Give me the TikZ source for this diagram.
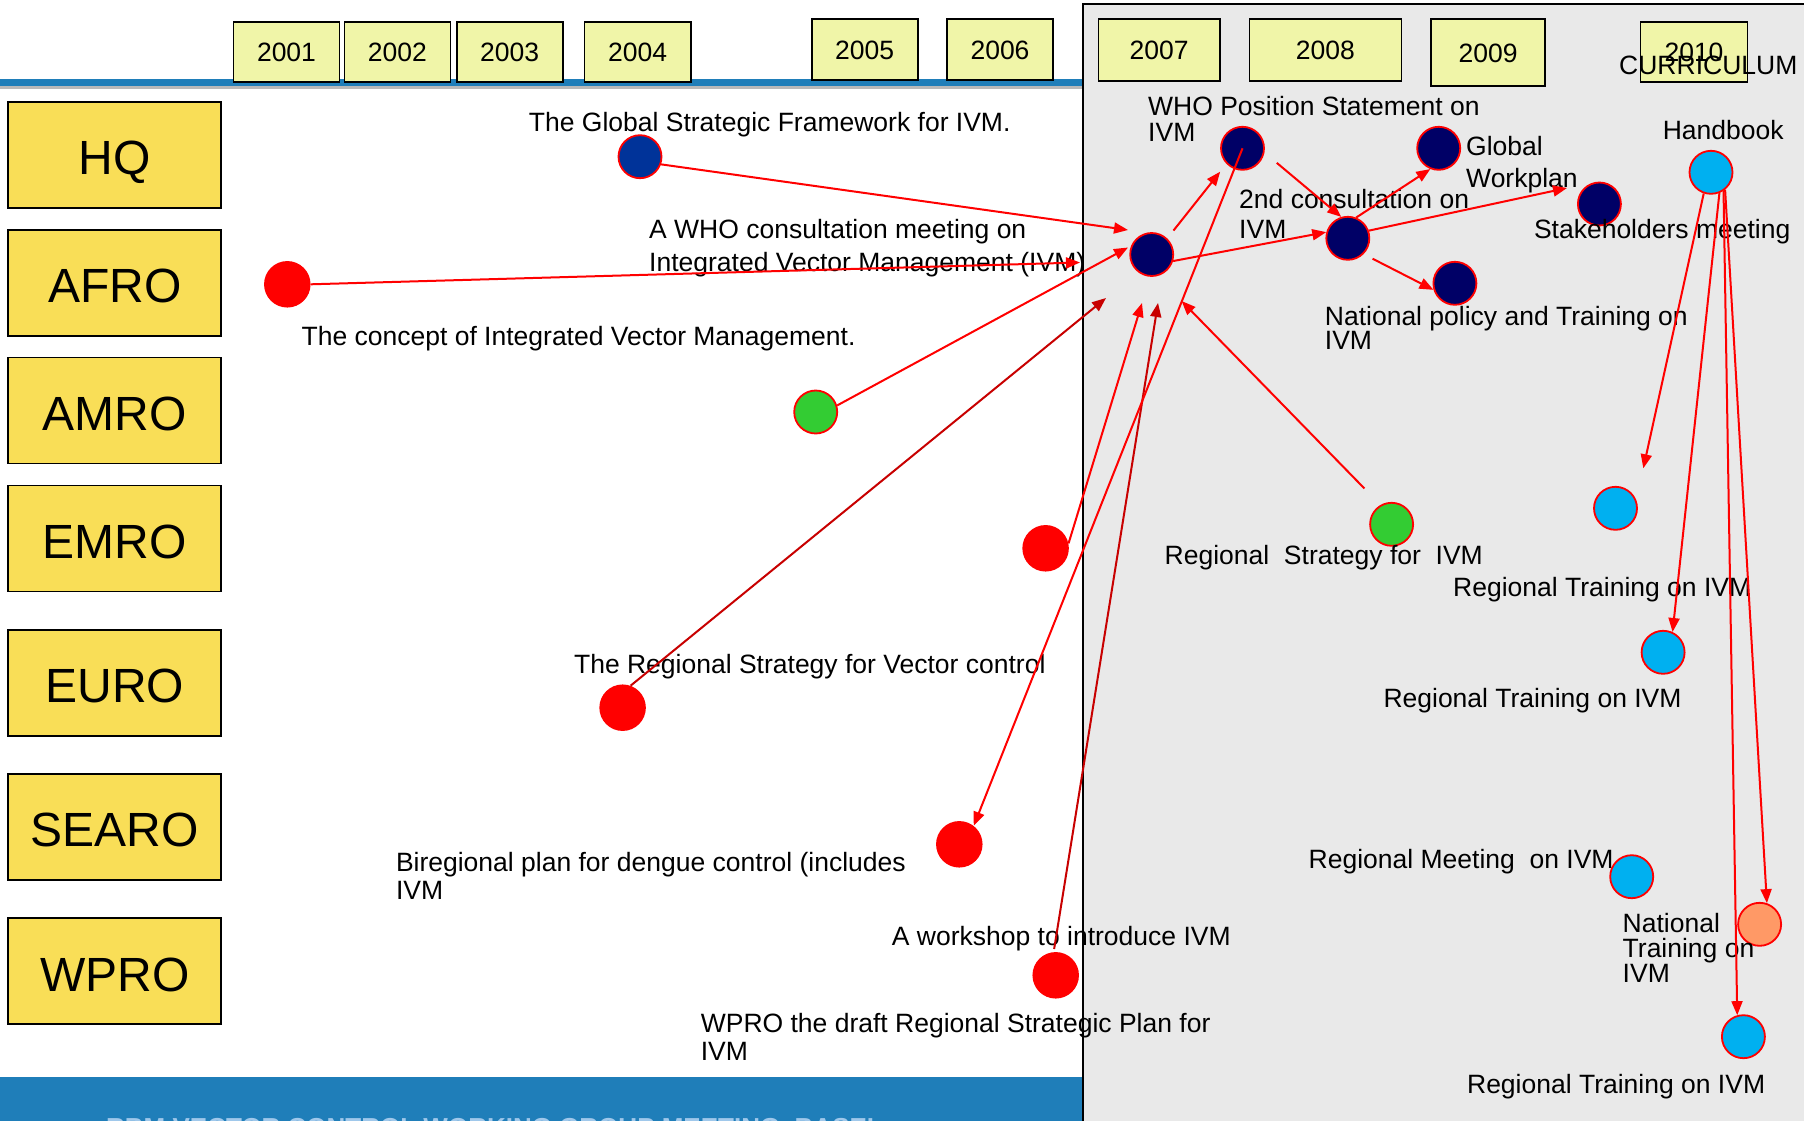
\documentclass[tikz,border=0pt]{standalone}
\usepackage{fontspec}
\setmainfont{Liberation Sans}
\usetikzlibrary{arrows.meta}
\definecolor{yearfill}{RGB}{240,245,168}
\definecolor{regfill}{RGB}{249,222,87}
\definecolor{barblue}{RGB}{31,126,185}
\definecolor{panelgray}{RGB}{233,233,233}
\definecolor{navyc}{RGB}{0,0,102}
\definecolor{royal}{RGB}{0,51,153}
\definecolor{skyb}{RGB}{0,176,240}
\definecolor{evgreen}{RGB}{51,204,51}
\definecolor{salmonc}{RGB}{255,153,102}
\definecolor{lnred}{RGB}{255,0,0}
\definecolor{dkred}{RGB}{200,0,0}
\definecolor{faintblue}{RGB}{160,200,235}
\begin{document}
\begin{tikzpicture}[x=1pt,y=-1pt,
  yearbox/.style 2 args={draw=black, line width=1.8pt, fill=yearfill, inner sep=0pt,
     minimum width=#1, minimum height=#2, text height=20pt, text depth=0pt,
     font=\fontsize{26.5pt}{30pt}\selectfont},
  regbox/.style={draw=black, line width=1.8pt, fill=regfill, inner sep=0pt,
     minimum width=212.7pt, minimum height=106pt, text height=40pt, text depth=0pt,
     font=\fontsize{48pt}{56pt}\selectfont},
  rdot/.style={circle, fill=lnred, inner sep=0pt, minimum size=46.5pt},
  ev/.style={circle, draw=lnred, line width=1.8pt, inner sep=0pt, minimum size=43pt, fill=#1},
  lab/.style={anchor=base west, inner sep=0pt, align=left, font=\fontsize{26.5pt}{#1}\selectfont},
  lab/.default=32pt,
  conn/.style={draw=lnred, line width=2pt, -{Triangle[length=14pt,width=11pt]}},
  dconn/.style={conn, draw=dkred}
]
\useasboundingbox (0,0) rectangle (1804,1121);
\fill[white] (0,0) rectangle (1804,1121);
% bars
\fill[barblue] (0,79) rectangle (1083,86);
\fill[gray!55] (0,86) rectangle (1083,89);
\fill[barblue] (0,1077) rectangle (1083,1121);
\begin{scope}
\clip (0,1077) rectangle (1083,1121);
\node[anchor=north west, inner sep=0pt, font=\bfseries\fontsize{26pt}{30pt}\selectfont, text=faintblue] (footer) at (106,1118.3) {RBM VECTOR CONTROL WORKING GROUP MEETING, BASEL};
\end{scope}
% right panel
\fill[panelgray] (1083,4) rectangle (1804,1121);
\draw[line width=1.8pt] (1083,1121) -- (1083,4) -- (1804,4);

% year boxes
\node[yearbox={106pt}{60pt}] (y2001) at (286.5,51.7) {2001};
\node[yearbox={106pt}{60pt}] (y2002) at (397.4,51.7) {2002};
\node[yearbox={106pt}{60pt}] (y2003) at (509.6,51.7) {2003};
\node[yearbox={106.6pt}{60pt}] (y2004) at (637.7,51.7) {2004};
\node[yearbox={106pt}{60.7pt}] (y2005) at (864.6,49.7) {2005};
\node[yearbox={106pt}{60.7pt}] (y2006) at (1000,49.7) {2006};
\node[yearbox={121.5pt}{61.4pt}] (y2007) at (1159.2,50) {2007};
\node[yearbox={152pt}{61.4pt}] (y2008) at (1325.4,50) {2008};
\node[yearbox={113.7pt}{66.7pt}] (y2009) at (1488.2,52.7) {2009};
\node[yearbox={107pt}{60pt}] (y2010) at (1694,52) {2010};

% region boxes
\node[regbox] (hq) at (114.7,154.7) {HQ};
\node[regbox] (rafro) at (114.7,282.9) {AFRO};
\node[regbox] (ramro) at (114.7,410.5) {AMRO};
\node[regbox] (remro) at (114.7,538.5) {EMRO};
\node[regbox] (reuro) at (114.7,682.9) {EURO};
\node[regbox] (rsearo) at (114.7,826.7) {SEARO};
\node[regbox] (rwpro) at (114.7,971.2) {WPRO};

% event nodes
\node[ev=royal] (gsf) at (640,156.7) {};
\node[rdot] (afro) at (287.3,284.3) {};
\node[ev=evgreen] (amro) at (815.7,412) {};
\node[rdot] (emro) at (1045.6,548.3) {};
\node[rdot] (euro) at (622.6,707.7) {};
\node[rdot] (searo) at (959.3,844.3) {};
\node[rdot] (wpro) at (1055.7,975.3) {};
\node[ev=navyc] (central) at (1151.7,254.5) {};
\node[ev=navyc] (who) at (1242.5,148.3) {};
\node[ev=navyc] (second) at (1347.8,238.3) {};
\node[ev=navyc] (globwp) at (1438.7,148.3) {};
\node[ev=navyc] (stake) at (1599.4,204) {};
\node[ev=navyc] (natpol) at (1454.9,283.3) {};
\node[ev=skyb] (handbook) at (1711,172.3) {};
\node[ev=evgreen] (regstrat) at (1391.6,524.3) {};
\node[ev=skyb] (rt1) at (1615.5,508.3) {};
\node[ev=skyb] (rt2) at (1663.1,652.3) {};
\node[ev=skyb] (regmeet) at (1631.7,876.7) {};
\node[ev=salmonc] (nattrain) at (1759.6,924.3) {};
\node[ev=skyb] (rt3) at (1743.4,1036.7) {};

% labels (anchor at the baseline of the last line)
\node[lab] (tgsf) at (528.7,131.7) {The Global Strategic Framework for IVM.};
\node[lab=33.4pt] (tcons) at (649,271.7) {A WHO consultation meeting on\\Integrated Vector Management (IVM)};
\node[lab] (tconc) at (301.4,345) {The concept of Integrated Vector Management.};
\node[lab] (trsvc) at (573.9,673.3) {The Regional Strategy for Vector control};
\node[lab=28pt] (tbir) at (395.8,899) {Biregional plan for dengue control (includes\\IVM};
\node[lab] (twork) at (891.7,945) {A workshop to introduce IVM};
\node[lab=28pt] (twpro) at (700.6,1060) {WPRO the draft Regional Strategic Plan for\\IVM};
\node[lab=25.5pt] (twho) at (1148,141.5) {WHO Position Statement on\\IVM};
\node[lab=32pt] (tglob) at (1466,187.5) {Global\\Workplan};
\node[lab=30pt] (tsec) at (1239,238.3) {2nd consultation on\\IVM};
\node[lab] (tstake) at (1533.8,238.5) {Stakeholders meeting};
\node[lab] (thand) at (1662.6,139.3) {Handbook};
\node[lab] (tcurr) at (1619,75) {CURRICULUM};
\node[lab=24pt] (tnatpol) at (1324.7,349) {National policy and Training on\\IVM};
\node[lab] (tregstrat) at (1164.5,564) {Regional\ \ Strategy for\ \ IVM};
\node[lab] (trt1) at (1453,596) {Regional Training on IVM};
\node[lab] (trt2) at (1383.3,707.5) {Regional Training on IVM};
\node[lab] (tregmeet) at (1308.5,868) {Regional Meeting\ \ on IVM};
\node[lab=25pt] (tnattr) at (1622.5,982.5) {National\\Training on\\IVM};
\node[lab] (trt3) at (1466.9,1093.3) {Regional Training on IVM};

% free arrow ends
\coordinate (T1) at (1128,230);
\coordinate (T2) at (1080,262.5);
\coordinate (T3) at (1128,247.5);
\coordinate (T4) at (1106,298);
\coordinate (T5) at (1142,303);
\coordinate (T6) at (1158,303);
\coordinate (T7) at (1181.6,301);
\coordinate (T13) at (1567,188);
\coordinate (T15) at (1643.3,468.3);

% connectors
\draw[conn] (gsf.-20) -- (T1);
\draw[conn] (afro.east) -- (T2);
\draw[conn] (amro.17) -- (T3);
\draw[dconn] (euro.70) -- (T4);
\draw[conn] (emro.12) -- (T5);
\draw[dconn, shorten <=3pt] (wpro.95) -- (T6);
\draw[conn, shorten <=23pt] (regstrat.120) -- (T7);
\draw[conn] (who.center) -- (searo.52);
\draw[conn, shorten <=10pt, shorten >=10pt] (central.46) -- (who.224);
\draw[conn] (central.-17) -- (second.164);
\draw[conn, shorten <=16pt] (who.-11) -- (second.107);
\draw[conn] (second.68) -- (globwp.248);
\draw[conn] (second.20) -- (T13);
\draw[conn, shorten <=10pt] (second.-45) -- (natpol.197);
\draw[conn] (handbook.-109) -- (T15);
\draw[conn] (handbook.-68) -- (rt2.65);
\draw[conn] (handbook.-51) -- (nattrain.71);
\draw[conn] (handbook.-56) -- (rt3.106);
\end{tikzpicture}
\end{document}
